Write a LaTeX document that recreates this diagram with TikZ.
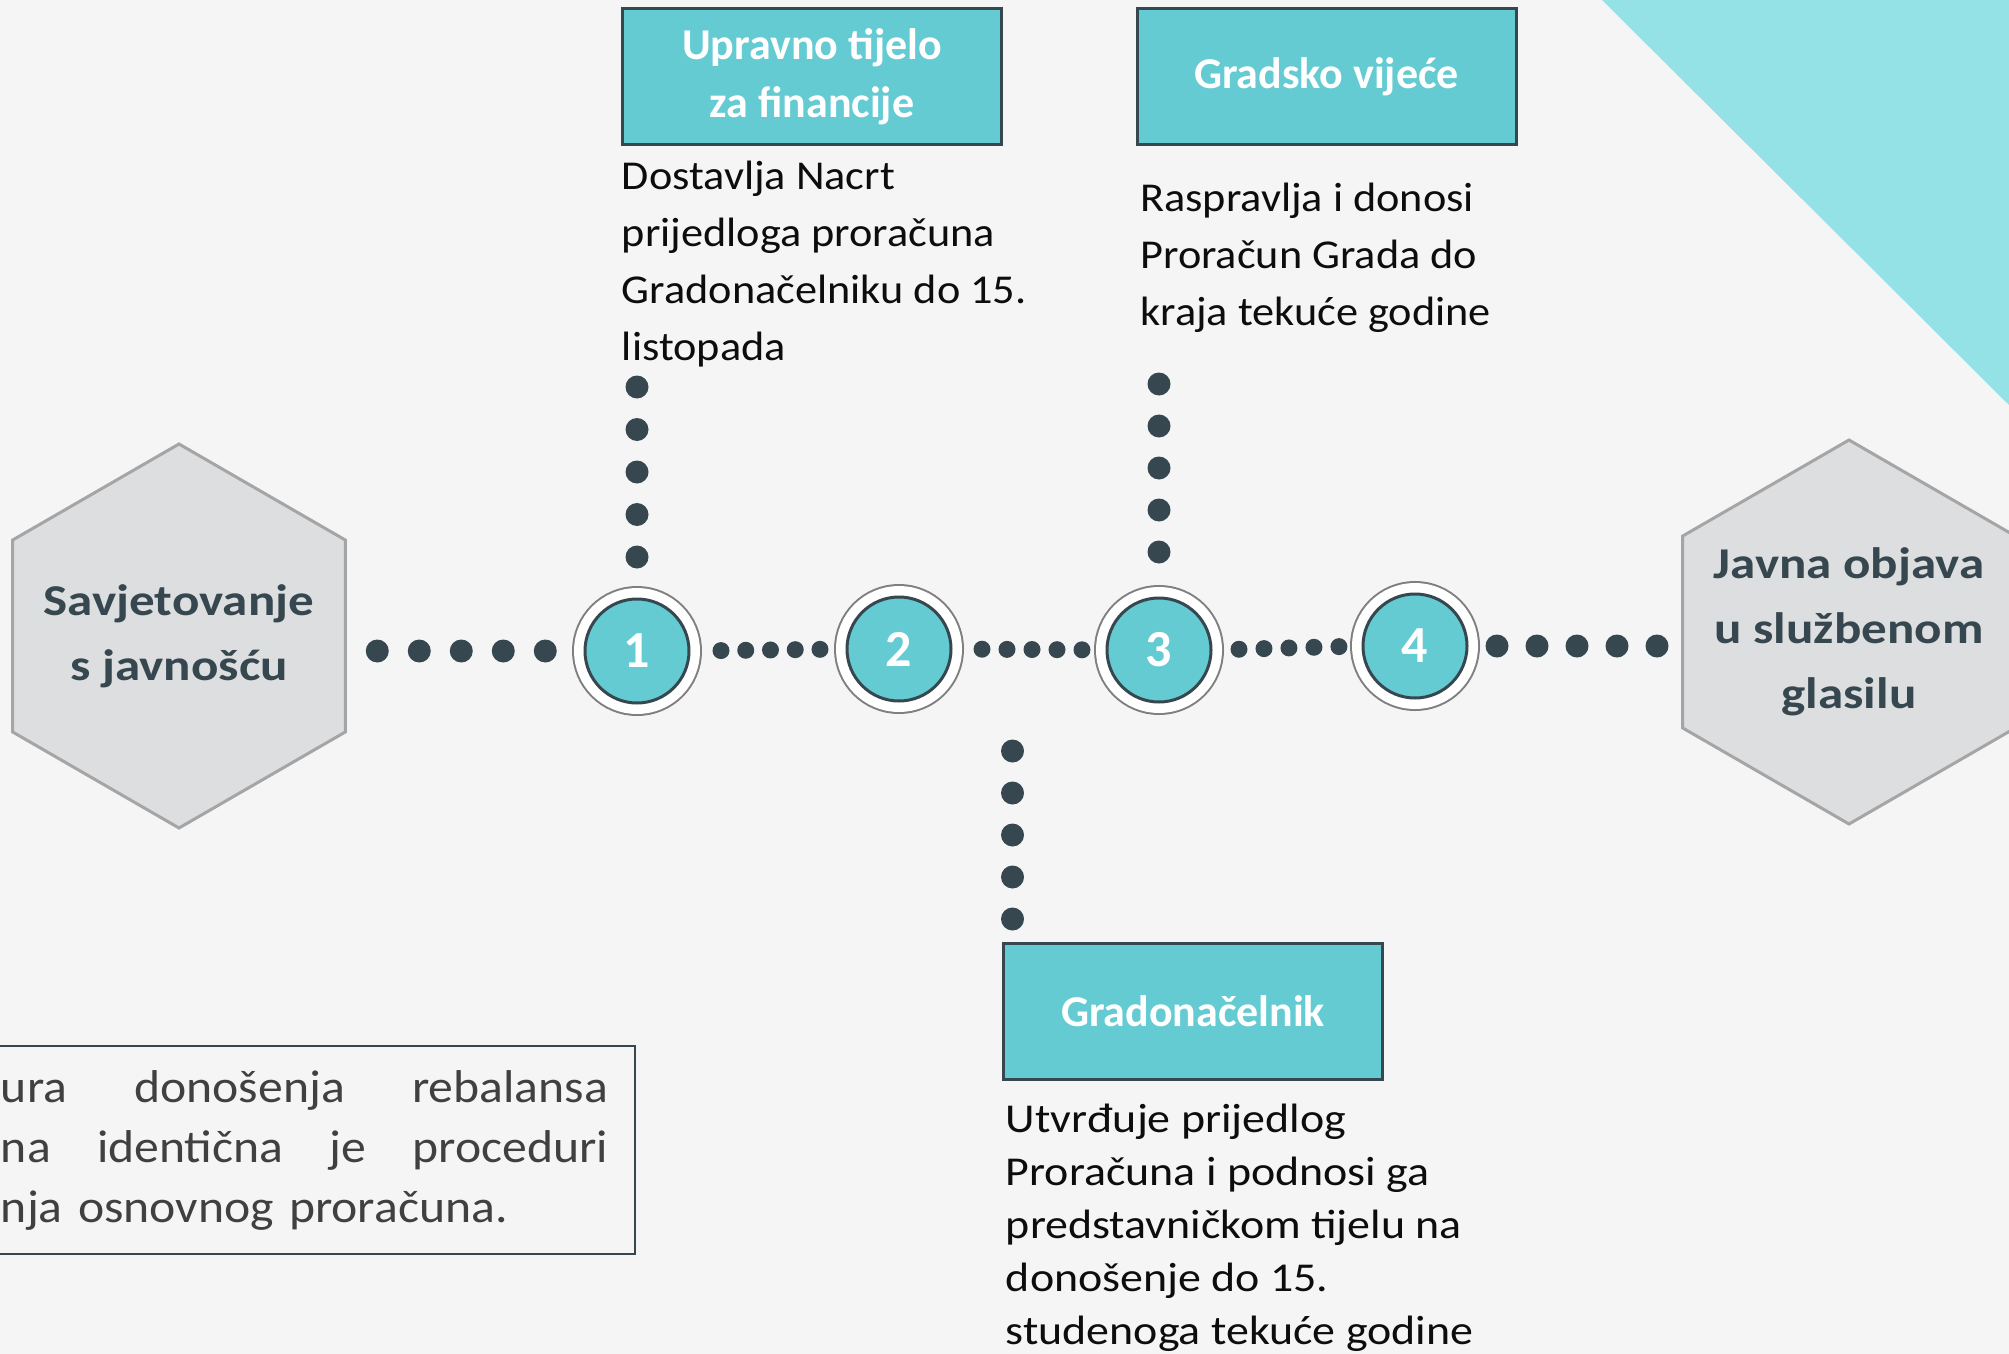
\documentclass[tikz,border=0pt]{standalone}
\usepackage{fontspec}
\setmainfont{Carlito}
\newfontfamily\sirokifont[FakeStretch=1.08]{Carlito}
\newfontfamily\donjifont[FakeStretch=1.12]{Carlito}
\newfontfamily\heksafont[FakeStretch=1.16]{Carlito}
\usetikzlibrary{shapes.geometric,positioning}

\definecolor{tirkiz}{HTML}{65CBD3}
\definecolor{tamna}{HTML}{37474F}
\definecolor{pozadina}{HTML}{F5F5F5}
\definecolor{trokut}{HTML}{94E1E6}
\definecolor{heksa}{HTML}{DDDEE0}
\definecolor{heksarub}{HTML}{A5A5A5}
\definecolor{prsten}{HTML}{7F7F7F}
\definecolor{siva}{HTML}{404040}
\definecolor{crna}{HTML}{0D0D0D}

\begin{document}
\begin{tikzpicture}[
    x=0.5pt, y=-0.5pt,
    heksagon/.style={regular polygon, regular polygon sides=6, shape border rotate=30,
        minimum size=192pt, inner sep=0pt, outer sep=0pt, fill=heksa, draw=heksarub,
        line width=1.5pt},
    heksanatpis/.style={text=tamna, align=center,
        font=\heksafont\bfseries\fontsize{22}{32.5}\selectfont},
    korak/.style={circle, minimum size=52pt, inner sep=0pt, outer sep=0pt,
        preaction={draw=prsten, line width=13pt},
        preaction={draw=white, line width=11pt},
        fill=tirkiz, draw=tamna, line width=1.5pt, text=white,
        font=\bfseries\fontsize{26}{30}\selectfont},
    kutija/.style={rectangle, minimum width=189.5pt, minimum height=68pt, inner sep=0pt,
        outer sep=0pt, fill=tirkiz, draw=tamna, line width=1.5pt, text=white,
        align=center, font=\bfseries\fontsize{22}{29}\selectfont},
    opis/.style={inner sep=0pt, align=left, text=crna,
        font=\sirokifont\fontsize{20.5}{28.5}\selectfont},
    donji/.style={font=\donjifont\fontsize{20.5}{26.5}\selectfont},
    biljeska/.style={rectangle, draw=tamna, line width=1pt, text=siva, text width=303.5pt,
        inner xsep=13.5pt, minimum height=104pt, align=left,
        font=\sirokifont\fontsize{23}{30}\selectfont},
    tocke/.style={draw=tamna, line cap=round, line width=11.5pt,
        dash pattern=on 0pt off #1},
    sitne/.style={tocke=#1, line width=8.5pt}
    ]

\useasboundingbox (0,0) rectangle (2009,1354);
\clip (0,0) rectangle (2009,1354);
\fill[pozadina] (0,0) rectangle (2009,1354);
\fill[trokut] (1602,0) -- (2009,0) -- (2009,405) -- cycle;

% sesterokuti
\node[heksagon, label={[heksanatpis]center:Savjetovanje\\s javnošću}] (savjet)
    at (179,636) {};
\node[heksagon, label={[heksanatpis]center:Javna objava\\u službenom\\glasilu}] (objava)
    at (1849,632) {};

% koraci
\node[korak] (k1) at (637,651) {1};
\node[korak] (k2) at (899,649) {2};
\node[korak] (k3) at (1159,650) {3};
\node[korak] (k4) at (1415,646) {4};

% tijela i opisi
\node[kutija] (uprava) at (812,77) {Upravno tijelo\\za financije};
\node[opis, below right=8pt and -0.5pt of uprava.south west] (opis1)
    {Dostavlja Nacrt\\prijedloga proračuna\\Gradonačelniku do 15.\\listopada};
\node[kutija] (vijece) at (1326.5,77) {Gradsko vijeće};
\node[opis, below right=19pt and 1.5pt of vijece.south west] (opis2)
    {Raspravlja i donosi\\Proračun Grada do\\kraja tekuće godine};
\node[kutija] (gradonacelnik) at (1193,1011) {Gradonačelnik};
\node[opis, donji, below right=12.5pt and 1pt of gradonacelnik.south west] (opis3)
    {Utvrđuje prijedlog\\Proračuna i podnosi ga\\predstavničkom tijelu na\\donošenje do 15.\\studenoga tekuće godine};

% napomena dolje lijevo
\node[biljeska, anchor=east] (napomena) at (636,1150)
    {\makebox[303.5pt][s]{ura\hfill donošenja\hfill rebalansa}\\
     \makebox[303.5pt][s]{na\hfill identična\hfill je\hfill proceduri}\\
     nja osnovnog proračuna.};

% tockice
\draw[tocke=21pt, shorten <=16pt, shorten >=19.5pt] (savjet.east |- k1) -- (k1.west);
\draw[sitne=12.375pt, shorten <=16pt, shorten >=13pt] (k1.east) -- (k2.west);
\draw[sitne=12.5pt, shorten <=15.5pt, shorten >=12pt] (k2.east) -- (k3.west);
\draw[sitne=12.5pt, shorten <=14pt, shorten >=11.5pt] (k3.east) -- (k4.west);
\draw[tocke=20pt, shorten <=15pt, shorten >=12.5pt] (k4.east) -- (objava.west |- k4);
\draw[tocke=21.25pt, shorten <=21pt, shorten >=121pt] (k1.north) -- (k1 |- uprava.south);
\draw[tocke=21pt, shorten <=23pt, shorten >=119.5pt] (k3.north) -- (k3 |- vijece.south);
\coordinate (spoj) at ([xshift=4.5pt]gradonacelnik.north west);
\draw[tocke=21pt, shorten <=12pt, shorten >=25pt] (spoj) -- (spoj |- k2.south);
\end{tikzpicture}
\end{document}
